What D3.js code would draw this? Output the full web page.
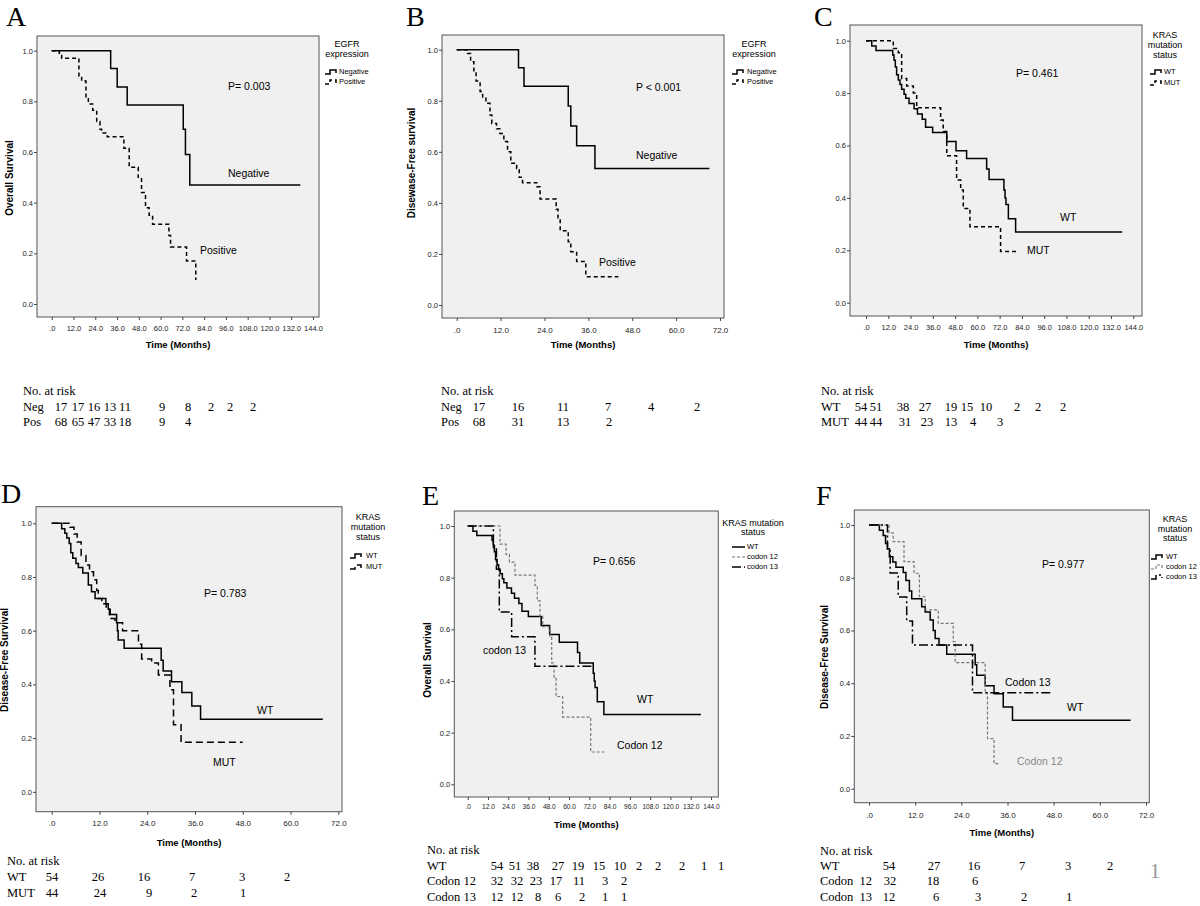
<!DOCTYPE html>
<html><head><meta charset="utf-8">
<script src="https://cdn.jsdelivr.net/npm/d3@7"></script>
<style>body{margin:0;background:#fff} svg{display:block} text{white-space:pre}</style>
</head><body><svg id="c" width="1200" height="906"></svg>
<script>
// ---------- tick values ----------
const xTicks144 = [0,12,24,36,48,60,72,84,96,108,120,132,144];
const xTicks72 = [0,12,24,36,48,60,72];
const yTicks = [0,0.2,0.4,0.6,0.8,1.0];

// ---------- Panel A: OS by EGFR ----------
const A_neg_t = [0,32.5,36.1,41.6,72.5,73.7,76.1,137];
const A_neg_s = [1,0.93,0.857,0.786,0.69,0.59,0.47,0.47];
const A_pos_t = [0,4.2,5.5,15.0,16.5,18.9,20.2,22.6,24.8,26.6,27.5,30.6,39.8,42.7,47.7,49.5,51.7,53.7,55.6,64.6,65.5,74.3,79.4];
const A_pos_s = [1,0.985,0.97,0.90,0.88,0.81,0.79,0.765,0.72,0.69,0.675,0.66,0.615,0.54,0.50,0.44,0.38,0.35,0.315,0.27,0.225,0.17,0.095];
const A_risk_neg = [17,17,16,13,11,9,8,2,2,2];
const A_risk_pos = [68,65,47,33,18,9,4];

// ---------- Panel B: DFS by EGFR ----------
const B_neg_t = [0,16.9,18.4,30.5,31.2,32.8,37.8,69.1];
const B_neg_s = [1,0.929,0.857,0.779,0.701,0.624,0.535,0.535];
const B_pos_t = [0,2.7,3.8,4.7,5.3,6.4,7.1,8.0,9.1,9.6,10.9,11.8,12.9,13.9,14.8,16.4,17.1,18.0,21.9,22.8,27.2,27.7,28.3,30.5,31.2,32.8,35.3,44.2];
const B_pos_s = [1,0.985,0.953,0.914,0.877,0.836,0.81,0.79,0.744,0.711,0.69,0.672,0.64,0.60,0.555,0.535,0.50,0.479,0.463,0.415,0.375,0.333,0.291,0.248,0.209,0.17,0.111,0.111];
const B_risk_neg = [17,16,11,7,4,2];
const B_risk_pos = [68,31,13,2];

// ---------- Panel C: OS by KRAS ----------
const C_wt_t = [0,3.1,5.4,14.4,15.1,15.8,16.5,17.4,18.3,19.2,20.5,21.4,23.2,25.9,27.7,30.3,32.1,35.9,43.5,48.5,54.2,65.0,66.3,74.3,74.9,75.4,76.7,80.6,138];
const C_wt_s = [1,0.98,0.963,0.945,0.925,0.90,0.87,0.85,0.833,0.815,0.796,0.78,0.76,0.74,0.72,0.70,0.67,0.65,0.615,0.58,0.55,0.51,0.47,0.43,0.40,0.375,0.32,0.27,0.27];
const C_mut_t = [0,14.7,17.4,19.2,21.9,25.5,27.3,40.2,41.6,43.5,48.8,51.0,52.4,56.0,72.5,81.7];
const C_mut_s = [1,0.97,0.954,0.856,0.827,0.80,0.744,0.697,0.653,0.561,0.468,0.43,0.36,0.29,0.195,0.195];
const C_risk_wt = [54,51,38,27,19,15,10,2,2,2];
const C_risk_mut = [44,44,31,23,13,4,3];

// ---------- Panel D: DFS by KRAS ----------
const D_wt_t = [0,2.5,3.3,3.8,4.4,4.8,5.3,6.1,6.7,7.8,9.2,10.0,10.9,13.6,14.2,14.7,16.3,16.5,16.7,18.2,27.5,28.0,30.1,32.7,35.2,37.4,68.1];
const D_wt_s = [1,0.98,0.963,0.945,0.925,0.89,0.87,0.85,0.835,0.815,0.77,0.745,0.72,0.70,0.68,0.66,0.63,0.60,0.565,0.535,0.49,0.45,0.41,0.37,0.32,0.27,0.27];
const D_mut_t = [0,4.6,5.6,6.4,7.4,8.6,9.5,10.5,11.3,11.7,12.6,13.7,14.5,15.9,17.8,21.8,22.6,25.1,26.8,29.7,30.6,32.5,48.0];
const D_mut_s = [1,0.985,0.96,0.93,0.88,0.845,0.82,0.79,0.75,0.72,0.70,0.68,0.645,0.63,0.60,0.55,0.495,0.48,0.435,0.38,0.25,0.185,0.185];
const D_risk_wt = [54,26,16,7,3,2];
const D_risk_mut = [44,24,9,2,1];

// ---------- Panel E: OS by KRAS codon ----------
const E_wt_t = C_wt_t;
const E_wt_s = C_wt_s;
const E_c12_t = [0,19.1,22.7,24.7,28.0,39.8,41.2,42.8,44.4,48.7,49.7,51.1,52.3,56.2,72.8,80.9];
const E_c12_s = [1,0.93,0.89,0.86,0.81,0.77,0.71,0.65,0.61,0.57,0.47,0.41,0.34,0.26,0.125,0.125];
const E_c13_t = [0,15.2,17.0,18.7,26.0,39.8,74.4];
const E_c13_s = [1,0.917,0.833,0.667,0.571,0.457,0.457];
const E_risk_wt = [54,51,38,27,19,15,10,2,2,2,1,1];
const E_risk_c12 = [32,32,23,17,11,3,2];
const E_risk_c13 = [12,12,8,6,2,1,1];

// ---------- Panel F: DFS by KRAS codon ----------
const F_wt_t = [0,2.7,3.7,4.3,4.8,5.3,6.2,7.0,8.9,9.6,10.5,11.1,13.7,14.6,15.9,16.7,17.2,18.2,20.2,27.6,28.0,30.2,32.5,34.9,37.3,68.0];
const F_wt_s = [1,0.98,0.96,0.93,0.91,0.88,0.86,0.84,0.82,0.79,0.75,0.72,0.69,0.67,0.64,0.60,0.57,0.545,0.51,0.47,0.43,0.39,0.36,0.31,0.26,0.26];
const F_c12_t = [0,5.2,6.3,9.1,11.7,13.1,14.6,18.0,21.9,22.4,30.2,30.8,32.5,34.0];
const F_c12_s = [1,0.97,0.937,0.861,0.817,0.728,0.678,0.627,0.558,0.478,0.364,0.19,0.095,0.095];
const F_c13_t = [0,4.8,5.5,7.6,9.8,11.3,26.9,47.9];
const F_c13_s = [1,0.909,0.818,0.727,0.636,0.545,0.364,0.364];
const F_risk_wt = [54,27,16,7,3,2];
const F_risk_c12 = [32,18,6];
const F_risk_c13 = [12,6,3,2,1];

// ---------- styles ----------
const STY = {
  solid:{stroke:'#000',w:1.5,dash:null},
  dash:{stroke:'#000',w:1.5,dash:'4,3'},
  longdash:{stroke:'#000',w:1.5,dash:'7,4'},
  grey:{stroke:'#777',w:1.2,dash:'3,2'},
  dashdot:{stroke:'#000',w:1.5,dash:'9,3,2,3'}
};
const SANS = 'Liberation Sans, Arial, sans-serif';
const SERIF = 'Liberation Serif, Times New Roman, serif';

const panels = [
 {letter:'A', lx:6, ly:26, frame:[37,36,319,317], xd:[0,144], xr:[51.7,313], yr:[304,50.7], xt:xTicks144, xfs:7.5, labY:328, titleY:345,
  yTitle:{t:'Overall Survival',x:10,y:178},
  series:[{t:A_neg_t,s:A_neg_s,st:'solid'},{t:A_pos_t,s:A_pos_s,st:'dash'}],
  legend:{title:['EGFR','expression'],cx:347,ty:[45,55],items:[['Negative',72,'solid'],['Positive',82,'dash']],sx:325,tx:339,step:true},
  notes:[['P= 0.003',228,87],['Negative',228,174],['Positive',200,251]],
  risk:{tx:23,ty:392,rows:[['Neg',408,A_risk_neg,[61,78,94,110,125,162,188,211,230,253]],['Pos',423,A_risk_pos,[61,78,94,110,125,162,188]]]}},
 {letter:'B', lx:406, ly:26, frame:[442,35,724,318], xd:[0,72], xr:[456.7,720], yr:[305,49.7], xt:xTicks72, xfs:8, labY:330, titleY:345,
  yTitle:{t:'Disewase-Free survival',x:412,y:163},
  series:[{t:B_neg_t,s:B_neg_s,st:'solid'},{t:B_pos_t,s:B_pos_s,st:'dash'}],
  legend:{title:['EGFR','expression'],cx:754,ty:[45,55],items:[['Negative',72,'solid'],['Positive',82,'dash']],sx:732,tx:747,step:true},
  notes:[['P < 0.001',636,88],['Negative',636,156],['Positive',599,263]],
  risk:{tx:441,ty:392,rows:[['Neg',408,B_risk_neg,[479,518,563,608,651,697]],['Pos',423,B_risk_pos,[479,518,563,609]]]}},
 {letter:'C', lx:814, ly:26, frame:[850,25,1142,316], xd:[0,144], xr:[866,1133.3], yr:[302.7,40.7], xt:xTicks144, xfs:7.5, labY:327, titleY:345,
  yTitle:null,
  series:[{t:C_wt_t,s:C_wt_s,st:'solid'},{t:C_mut_t,s:C_mut_s,st:'dash'}],
  legend:{title:['KRAS','mutation','status'],cx:1165,ty:[36,46,56],items:[['WT',72,'solid'],['MUT',83,'dash']],sx:1150,tx:1164,step:true},
  notes:[['P= 0.461',1016,74],['WT',1060,218],['MUT',1027,251]],
  risk:{tx:821,ty:392,rows:[['WT',408,C_risk_wt,[861,876,903,925,951,967,986,1017,1038,1063]],['MUT',423,C_risk_mut,[861,876,905,927,951,973,1000]]]}},
 {letter:'D', lx:1, ly:503, frame:[36,506.7,342,811.7], xd:[0,72], xr:[51.7,338.3], yr:[791.8,523.3], xt:xTicks72, xfs:8, labY:823, titleY:843,
  yTitle:{t:'Disease-Free Survival',x:5,y:660},
  series:[{t:D_wt_t,s:D_wt_s,st:'solid'},{t:D_mut_t,s:D_mut_s,st:'longdash'}],
  legend:{title:['KRAS','mutation','status'],cx:368,ty:[518,528,538],items:[['WT',556,'solid'],['MUT',567,'longdash']],sx:350,tx:366,step:true},
  notes:[['P= 0.783',204,594],['WT',257,711],['MUT',213,763]],
  risk:{tx:7,ty:862,rows:[['WT',878,D_risk_wt,[52,98,144,192,242,287]],['MUT',894,D_risk_mut,[52,100,149,194,243]]]}},
 {letter:'E', lx:422, ly:505, frame:[454.3,511,718.3,797], xd:[0,144], xr:[467.7,711], yr:[784.3,526], xt:xTicks144, xfs:6.6, labY:807, titleY:825,
  yTitle:{t:'Overall Survival',x:428,y:660},
  series:[{t:E_wt_t,s:E_wt_s,st:'solid'},{t:E_c12_t,s:E_c12_s,st:'grey'},{t:E_c13_t,s:E_c13_s,st:'dashdot'}],
  legend:{title:['KRAS mutation','status'],cx:753,ty:[524,533],items:[['WT',547,'solid'],['codon 12',557,'grey'],['codon 13',567,'dashdot']],sx:732,tx:747,step:false},
  notes:[['P= 0.656',593,562],['codon 13',483,651],['WT',637,700],['Codon 12',617,746]],
  risk:{tx:427,ty:851,rows:[['WT',867,E_risk_wt,[497,515,533,558,578,599,620,639,658,682,704,721]],['Codon 12',882,E_risk_c12,[497,517,536,556,579,605,624]],['Codon 13',898,E_risk_c13,[497,517,538,558,582,605,624]]]}},
 {letter:'F', lx:816, ly:505, frame:[854.3,510,1149.3,802.7], xd:[0,72], xr:[869,1146], yr:[788.7,525], xt:xTicks72, xfs:8, labY:815, titleY:833,
  yTitle:{t:'Disease-Free Survival',x:825,y:657},
  series:[{t:F_wt_t,s:F_wt_s,st:'solid'},{t:F_c12_t,s:F_c12_s,st:'grey'},{t:F_c13_t,s:F_c13_s,st:'dashdot'}],
  legend:{title:['KRAS','mutation','status'],cx:1175,ty:[520,530,539],items:[['WT',557,'solid'],['codon 12',567,'grey'],['codon 13',577,'dashdot']],sx:1151,tx:1166,step:true},
  notes:[['P= 0.977',1042,565],['Codon 13',1005,683],['WT',1067,708],['Codon 12',1017,762,'#888']],
  risk:{tx:820,ty:852,rows:[['WT',867,F_risk_wt,[889,934,974,1022,1068,1110]],['Codon\u00a0\u00a012',882,F_risk_c12,[890,933,975]],['Codon\u00a0\u00a013',898,F_risk_c13,[889,936,978,1024,1069]]]}}
];

const svg = d3.select('#c');
const fmtX = d => d === 0 ? '.0' : d3.format('.1f')(d);

function applyStyle(sel, st){
  const s = STY[st];
  sel.attr('fill','none').attr('stroke',s.stroke).attr('stroke-width',s.w);
  if (s.dash) sel.attr('stroke-dasharray', s.dash);
}

panels.forEach(p => {
  const g = svg.append('g');
  const [fx0,fy0,fx1,fy1] = p.frame;
  g.append('text').attr('x',p.lx).attr('y',p.ly).text(p.letter)
    .attr('font-family',SERIF).attr('font-size',28).attr('fill','#000');
  g.append('rect').attr('x',fx0).attr('y',fy0).attr('width',fx1-fx0).attr('height',fy1-fy0)
    .attr('fill','#f0f0f0').attr('stroke','#555').attr('stroke-width',1);

  const x = d3.scaleLinear().domain(p.xd).range(p.xr);
  const y = d3.scaleLinear().domain([0,1]).range(p.yr);

  const pad = p.labY - fy1 - 3 - 2.8;
  const xa = g.append('g').attr('transform',`translate(0,${fy1})`)
    .call(d3.axisBottom(x).tickValues(p.xt).tickSize(3).tickPadding(pad).tickFormat(fmtX));
  xa.select('.domain').remove();
  xa.selectAll('text').attr('font-family',SANS).attr('font-size',p.xfs).attr('fill','#222');
  xa.selectAll('line').attr('stroke','#444');

  const ya = g.append('g').attr('transform',`translate(${fx0},0)`)
    .call(d3.axisLeft(y).tickValues(yTicks).tickSize(3).tickPadding(1).tickFormat(d3.format('.1f')));
  ya.select('.domain').remove();
  ya.selectAll('text').attr('font-family',SANS).attr('font-size',7.5).attr('fill','#222');
  ya.selectAll('line').attr('stroke','#444');

  g.append('text').attr('x',(fx0+fx1)/2).attr('y',p.titleY).attr('text-anchor','middle')
    .attr('dominant-baseline','middle').attr('font-family',SANS).attr('font-weight','bold')
    .attr('font-size',9.5).text('Time (Months)');
  if (p.yTitle){
    g.append('text').attr('transform',`translate(${p.yTitle.x},${p.yTitle.y}) rotate(-90)`)
      .attr('text-anchor','middle').attr('dominant-baseline','middle').attr('font-family',SANS)
      .attr('font-weight','bold').attr('font-size',10).text(p.yTitle.t);
  }

  const line = d3.line().x(d => x(d[0])).y(d => y(d[1])).curve(d3.curveStepAfter);
  p.series.forEach(sr => {
    const pts = sr.t.map((t,i) => [t, sr.s[i]]);
    g.append('path').attr('d', line(pts)).call(applyStyle, sr.st);
  });

  // legend
  const L = p.legend;
  L.title.forEach((tt,i) => g.append('text').attr('x',L.cx).attr('y',L.ty[i]).attr('text-anchor','middle')
    .attr('dominant-baseline','middle').attr('font-family',SANS).attr('font-size',9).text(tt));
  L.items.forEach(it => {
    const [lab, iy, st] = it;
    const d = L.step ? `M${L.sx},${iy+2}H${L.sx+5}V${iy-2}H${L.sx+11}V${iy+1}` : `M${L.sx},${iy}H${L.sx+13}`;
    g.append('path').attr('d', d).call(applyStyle, st);
    g.append('text').attr('x',L.tx).attr('y',iy).attr('dominant-baseline','middle')
      .attr('font-family',SANS).attr('font-size',7.5).text(lab);
  });

  // notes
  p.notes.forEach(n => g.append('text').attr('x',n[1]).attr('y',n[2]).attr('dominant-baseline','middle')
    .attr('font-family',SANS).attr('font-size',10.5).attr('fill',n[3]||'#000').text(n[0]));

  // risk table
  const R = p.risk;
  g.append('text').attr('x',R.tx).attr('y',R.ty).attr('dominant-baseline','middle')
    .attr('font-family',SERIF).attr('font-size',12.5).text('No. at risk');
  R.rows.forEach(r => {
    const [lab, ry, vals, xs] = r;
    g.append('text').attr('x',R.tx).attr('y',ry).attr('dominant-baseline','middle')
      .attr('font-family',SERIF).attr('font-size',12.5).text(lab);
    vals.forEach((v,i) => g.append('text').attr('x',xs[i]).attr('y',ry).attr('text-anchor','middle')
      .attr('dominant-baseline','middle').attr('font-family',SERIF).attr('font-size',12.5).text(v));
  });
});

svg.append('text').attr('x',1155).attr('y',873).attr('text-anchor','middle').attr('dominant-baseline','middle')
  .attr('font-family',SERIF).attr('font-size',22).attr('fill','#999').text('1');
</script>
</body></html>
